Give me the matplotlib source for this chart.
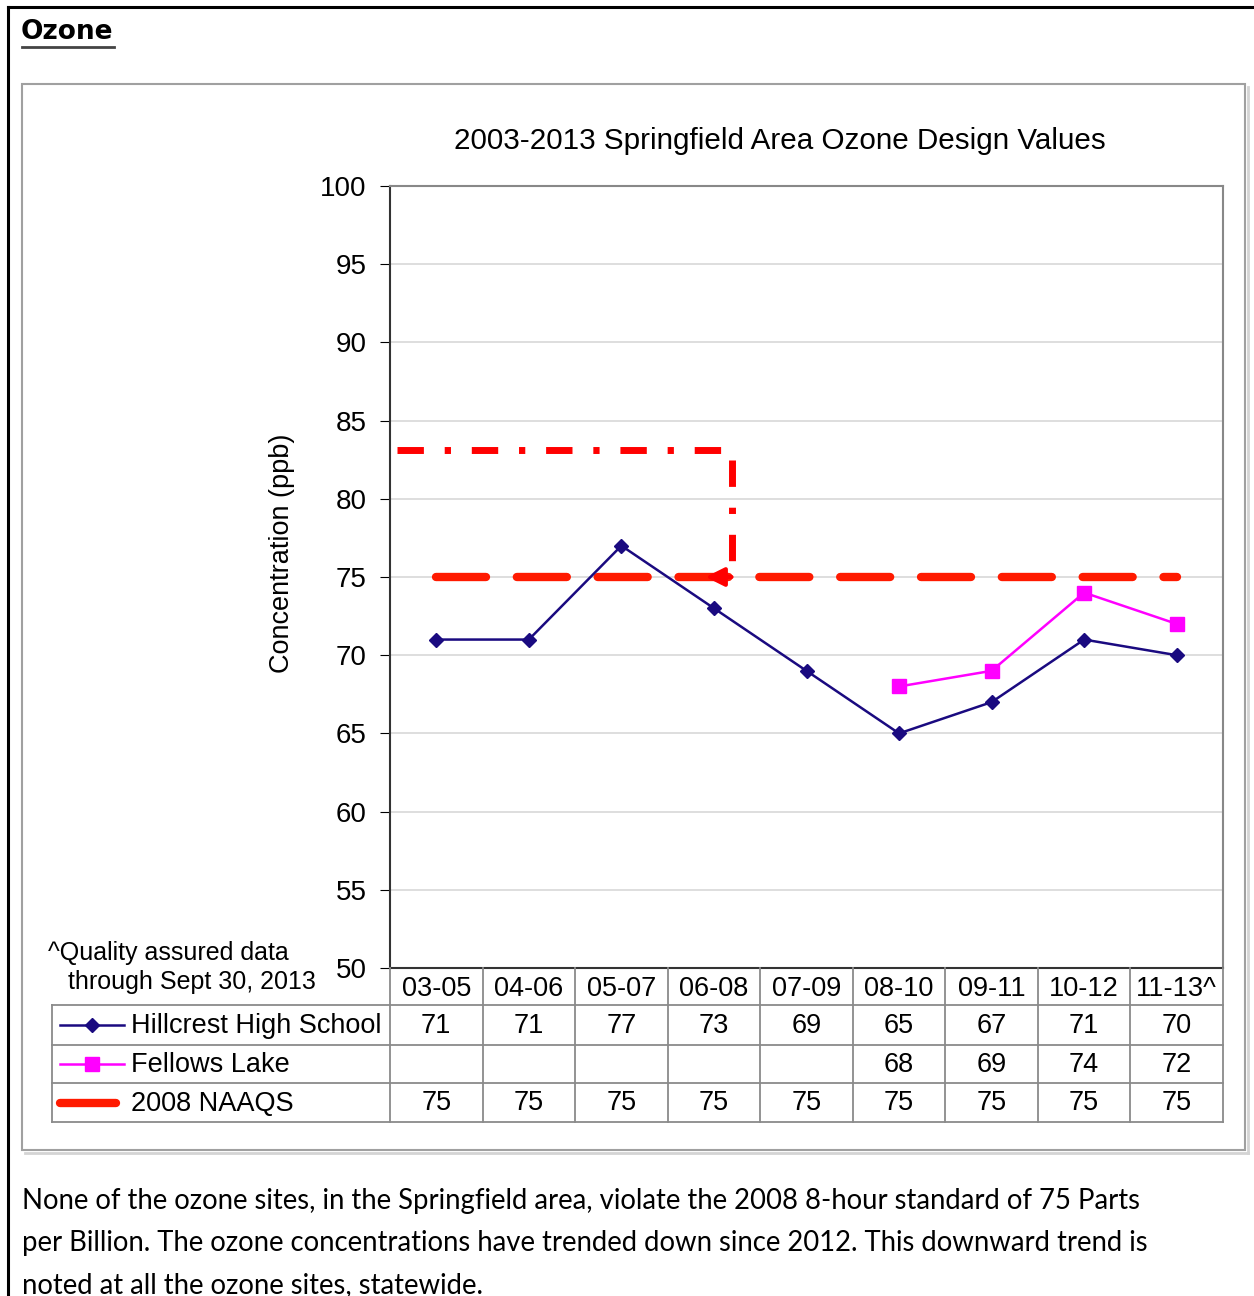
import matplotlib
matplotlib.use("Agg")
from matplotlib import pyplot as plt
from matplotlib.lines import Line2D
from matplotlib.patches import Rectangle
import numpy as np

plt.rcParams['font.family'] = ['Liberation Sans', 'DejaVu Sans']

periods = ["03-05", "04-06", "05-07", "06-08", "07-09", "08-10", "09-11", "10-12", "11-13^"]
hillcrest = [71, 71, 77, 73, 69, 65, 67, 71, 70]
fellows = [None, None, None, None, None, 68, 69, 74, 72]
naaqs = [75, 75, 75, 75, 75, 75, 75, 75, 75]

W, H = 1254, 1296
fig = plt.figure(figsize=(W / 100, H / 100), dpi=100)


def fx(x):
    return x / W


def fy(y):
    return 1 - y / H


def hline(x0, x1, y, **kw):
    fig.add_artist(Line2D([fx(x0), fx(x1)], [fy(y), fy(y)], **kw))


def vline(x, y0, y1, **kw):
    fig.add_artist(Line2D([fx(x), fx(x)], [fy(y0), fy(y1)], **kw))


# page frame
hline(8, W, 7, color='black', lw=2.2)
vline(8, 7, H, color='black', lw=2.2)

fig.text(fx(21), fy(32), "Ozone", fontsize=19, fontweight='bold', family='DejaVu Sans',
         va='center', ha='left')
hline(22, 114, 47, color='#444444', lw=2)

# chart box with a faint shadow
hline(25, 1248, 1153, color='#d4d4d4', lw=2)
vline(1248, 87, 1153, color='#d4d4d4', lw=2)
fig.add_artist(Rectangle((fx(22), fy(1150)), fx(1223), (1150 - 84) / H,
                         transform=fig.transFigure, fill=False, edgecolor='#a0a0a0', lw=1.5))

# plot area
ax = fig.add_axes([fx(390), fy(968), fx(1223 - 390), (968 - 186) / H])
x = np.arange(len(periods))
ax.plot(x, naaqs, color='#ff1a00', lw=6, dashes=(6, 3.7), dash_capstyle='round', zorder=2)
fy_vals = np.array([np.nan if v is None else v for v in fellows], dtype=float)
ax.plot(x, fy_vals, color='#ff00ff', lw=1.8, marker='s', markersize=10, zorder=3)
ax.plot(x, hillcrest, color='#1a0a80', lw=1.8, marker='D', markersize=7.5, zorder=4)

# dash-dot arrow annotation
dd = (3.8, 3, 0.9, 3)
ax.plot([-0.42, 3.1], [83.1, 83.1], color='red', lw=5, dashes=dd, zorder=5)
ax.plot([3.19, 3.19], [82.5, 75.1], color='red', lw=5, dashes=dd, zorder=5)
ax.annotate("", xy=(2.88, 75.0), xytext=(3.22, 75.0),
            arrowprops=dict(arrowstyle='-|>', color='red', lw=3, mutation_scale=28), zorder=6)

ax.set_xlim(-0.5, len(periods) - 0.5)
ax.set_ylim(50, 100)
ax.set_yticks(np.arange(50, 101, 5))
ax.set_xticks([])
ax.tick_params(axis='y', labelsize=20, length=7, pad=10)
ax.grid(axis='y', color='#d8d8d8', lw=1.2)
ax.set_axisbelow(True)
for s in ax.spines.values():
    s.set_color('#333333')
    s.set_linewidth(1.5)
ax.spines['right'].set_color('#888888')
ax.spines['top'].set_color('#888888')
ax.set_ylabel("Concentration (ppb)", fontsize=19.5)
ax.yaxis.set_label_coords((295 - 390) / 833, 0.53)

fig.text(fx(780), fy(141), "2003-2013 Springfield Area Ozone Design Values", fontsize=21.3,
         ha='center', va='center')

fig.text(fx(48), fy(953), "^Quality assured data", fontsize=18, ha='left', va='center')
fig.text(fx(68), fy(982), "through Sept 30, 2013", fontsize=18, ha='left', va='center')

# data table
cols = np.linspace(390, 1223, len(periods) + 1)
rows = [968, 1005, 1045, 1083, 1122]
gc = '#8a8a8a'
for r in rows[1:]:
    hline(52, 1223, r, color=gc, lw=1.3)
vline(52, rows[1], rows[-1], color=gc, lw=1.3)
for c in cols:
    vline(c, rows[0], rows[-1], color=gc, lw=1.3)

for i, p in enumerate(periods):
    cx = (cols[i] + cols[i + 1]) / 2
    fig.text(fx(cx), fy((rows[0] + rows[1]) / 2 + 2), p, fontsize=19.5, ha='center', va='center')
    for j, series in enumerate([hillcrest, fellows, naaqs]):
        v = series[i]
        if v is not None:
            fig.text(fx(cx), fy((rows[j + 1] + rows[j + 2]) / 2 + 1), str(v), fontsize=19.5,
                     ha='center', va='center')

labels = ["Hillcrest High School", "Fellows Lake", "2008 NAAQS"]
for j, lab in enumerate(labels):
    cy = (rows[j + 1] + rows[j + 2]) / 2
    fig.text(fx(131), fy(cy + 1), lab, fontsize=19.5, ha='left', va='center')
ry = (rows[1] + rows[2]) / 2
fig.add_artist(Line2D([fx(60), fx(124)], [fy(ry), fy(ry)], color='#1a0a80', lw=1.8))
fig.add_artist(Line2D([fx(92)], [fy(ry)], color='#1a0a80', marker='D', markersize=7.5))
ry = (rows[2] + rows[3]) / 2
fig.add_artist(Line2D([fx(60), fx(124)], [fy(ry), fy(ry)], color='#ff00ff', lw=1.8))
fig.add_artist(Line2D([fx(92)], [fy(ry)], color='#ff00ff', marker='s', markersize=10))
ry = (rows[3] + rows[4]) / 2
fig.add_artist(Line2D([fx(60), fx(116)], [fy(ry), fy(ry)], color='#ff1a00', lw=6,
                      solid_capstyle='round'))

# paragraph
para = ["None of the ozone sites, in the Springfield area, violate the 2008 8-hour standard of 75 Parts",
        "per Billion. The ozone concentrations have trended down since 2012. This downward trend is",
        "noted at all the ozone sites, statewide."]
for k, line in enumerate(para):
    fig.text(fx(22), fy(1201 + 42 * k), line, fontsize=19.8, ha='left', va='center',
             family=['Lato', 'DejaVu Sans'])

fig.savefig("out.png", dpi=100)
